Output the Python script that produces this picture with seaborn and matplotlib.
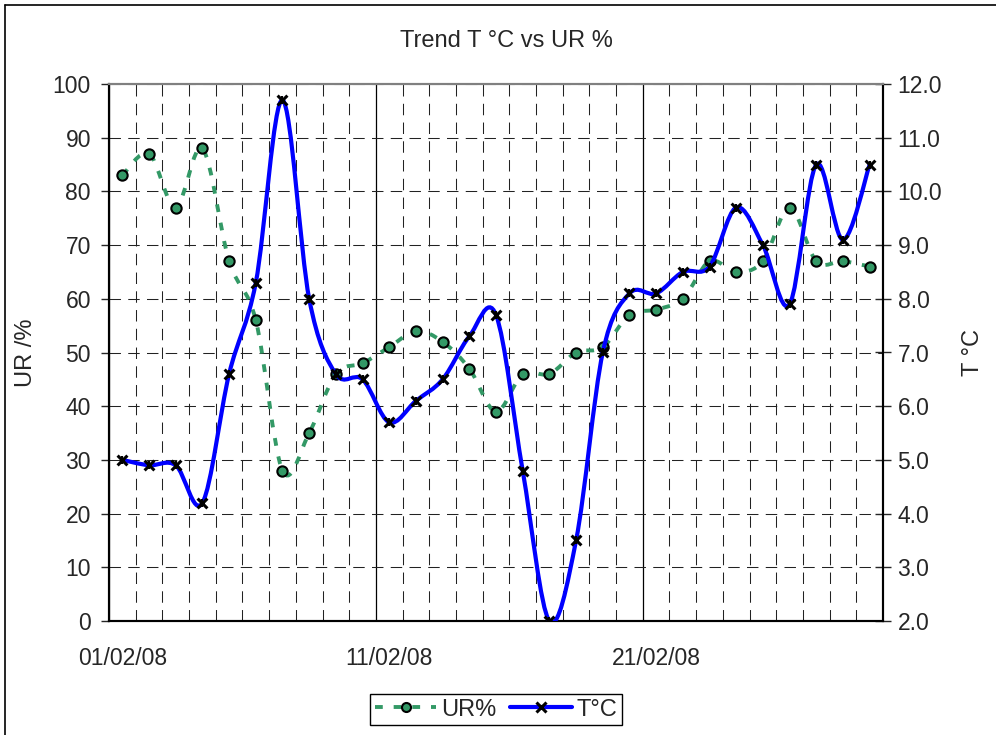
import numpy as np
import pandas as pd
import seaborn as sns
import matplotlib.pyplot as plt
from matplotlib.path import Path
from matplotlib.patches import PathPatch
from matplotlib.lines import Line2D

# daily readings, February 2008 (day 1 .. 29)
days = list(range(1, 30))
date_labels = ["01/02/08", "11/02/08", "21/02/08"]
label_days = [1, 11, 21]
ur = [83, 87, 77, 88, 67, 56, 28, 35, 46, 48,
      51, 54, 52, 47, 39, 46, 46, 50, 51, 57,
      58, 60, 67, 65, 67, 77, 67, 67, 66]
temp = [5.0, 4.9, 4.9, 4.2, 6.6, 8.3, 11.7, 8.0, 6.6, 6.5,
        5.7, 6.1, 6.5, 7.3, 7.7, 4.8, 2.0, 3.5, 7.0, 8.1,
        8.1, 8.5, 8.6, 9.7, 9.0, 7.9, 10.5, 9.1, 10.5]

df = pd.DataFrame({"day": days, "ur": ur, "temp": temp})
df["x"] = df["day"] - 1  # category position

green = "#339966"
blue = "#0000ff"

sns.set_style("white")
plt.rcParams["font.family"] = ["Liberation Sans", "DejaVu Sans"]


def smooth_path(x, y):
    # Excel-like smoothed line: cubic Bezier through every point
    pts = np.column_stack([x, y]).astype(float)
    n = len(pts)
    verts = [pts[0]]
    codes = [Path.MOVETO]
    for i in range(n - 1):
        p0 = pts[max(i - 1, 0)]
        p1 = pts[i]
        p2 = pts[i + 1]
        p3 = pts[min(i + 2, n - 1)]
        verts += [p1 + (p2 - p0) / 6, p2 - (p3 - p1) / 6, p2]
        codes += [Path.CURVE4] * 3
    return Path(verts, codes)


fig = plt.figure(figsize=(9.96, 7.35), dpi=100)
ax = fig.add_axes([109 / 996, 1 - 621 / 735, 774 / 996, 537 / 735])
ax2 = ax.twinx()

ur_dash = (0, (2.0, 2.8))
grid_dash = (0, (11, 7))

# UR% series on left axis
ax.add_patch(PathPatch(smooth_path(df["x"], df["ur"]), fill=False,
                       edgecolor=green, lw=2.8, linestyle=ur_dash, zorder=3))
sns.scatterplot(data=df, x="x", y="ur", ax=ax, marker="o", s=55, color=green,
                edgecolor="black", linewidth=1.5, zorder=4, legend=False)

# T°C series on right axis
ax2.add_patch(PathPatch(smooth_path(df["x"], df["temp"]), fill=False,
                        edgecolor=blue, lw=3.0, zorder=3))
sns.scatterplot(data=df, x="x", y="temp", ax=ax2, marker="x", s=50, color="black",
                linewidth=2.2, zorder=4, legend=False)
sns.scatterplot(data=df, x="x", y="temp", ax=ax2, marker="|", s=30, color="black",
                linewidth=1.6, zorder=4, legend=False)

ax.set_xlim(-0.5, len(days) - 0.5)
ax.set_ylim(0, 100)
ax2.set_ylim(2, 12)
ax.set_yticks(np.arange(0, 101, 10))
ax2.set_yticks(np.arange(2, 12.1, 1))
ax2.set_yticklabels([f"{v:.1f}" for v in np.arange(2, 12.1, 1)])

# day boundaries: solid every 10 days, dashed otherwise
ax.set_xticks([-0.5, 9.5, 19.5])
ax.set_xticklabels(["", "", ""])
ax.set_xticks(np.arange(-0.5, len(days), 1), minor=True)
ax.tick_params(axis="x", which="minor", length=0)
ax.tick_params(axis="x", which="major", direction="out", length=6, width=1, color="black")
ax.grid(axis="x", which="major", color="black", lw=0.9, ls="-")
ax.grid(axis="x", which="minor", color="#222222", lw=0.75, ls=grid_dash)
ax.grid(axis="y", which="major", color="#222222", lw=0.75, ls=grid_dash)
ax.set_axisbelow(True)

for d, lab in zip(label_days, date_labels):
    ax.text(d - 1, -0.048, lab, transform=ax.get_xaxis_transform(),
            ha="center", va="top", fontsize=16.5)

ax.set_xlabel("")
ax.set_ylabel("UR /%", fontsize=17)
ax.yaxis.set_label_coords(-0.093, 0.5)
ax2.set_xlabel("")
ax2.set_ylabel("T °C", fontsize=17)
ax2.yaxis.set_label_coords(1.102, 0.5)

ax.tick_params(axis="y", direction="out", length=6, width=1, labelsize=16.5, pad=7)
ax2.tick_params(axis="y", direction="inout", length=11, width=1, labelsize=16.5, pad=5)

for a in (ax, ax2):
    a.spines["top"].set_color("#808080")
    a.spines["top"].set_linewidth(1.5)
    for s in ("left", "bottom", "right"):
        a.spines[s].set_color("black")
        a.spines[s].set_linewidth(1.5)

fig.text(506 / 996, 1 - 41 / 735, "Trend T °C vs UR %", ha="center", va="center",
         fontsize=17)

handles = [
    Line2D([], [], color=green, lw=2.8, ls=ur_dash, marker="o", markersize=6.5,
           markerfacecolor=green, markeredgecolor="black", markeredgewidth=1.5),
    Line2D([], [], color=blue, lw=3.0, marker="x", markersize=6.5,
           markeredgecolor="black", markeredgewidth=2.2),
]
leg = fig.legend(handles, ["UR%", "T°C"], loc="center", ncol=2,
                 bbox_to_anchor=(496 / 996, 1 - 709.5 / 735), fontsize=17,
                 frameon=True, fancybox=False, framealpha=1, edgecolor="black",
                 handlelength=2.6, handletextpad=0.2, columnspacing=0.6,
                 borderpad=0.2, borderaxespad=0)
leg.get_frame().set_linewidth(1)

# chart area border (only top and left visible)
fig.add_artist(Line2D([5 / 996, 5 / 996], [0, 1 - 5 / 735], color="black", lw=1.2))
fig.add_artist(Line2D([5 / 996, 1], [1 - 5 / 735, 1 - 5 / 735], color="black", lw=1.2))

fig.savefig("out.png", dpi=100)
